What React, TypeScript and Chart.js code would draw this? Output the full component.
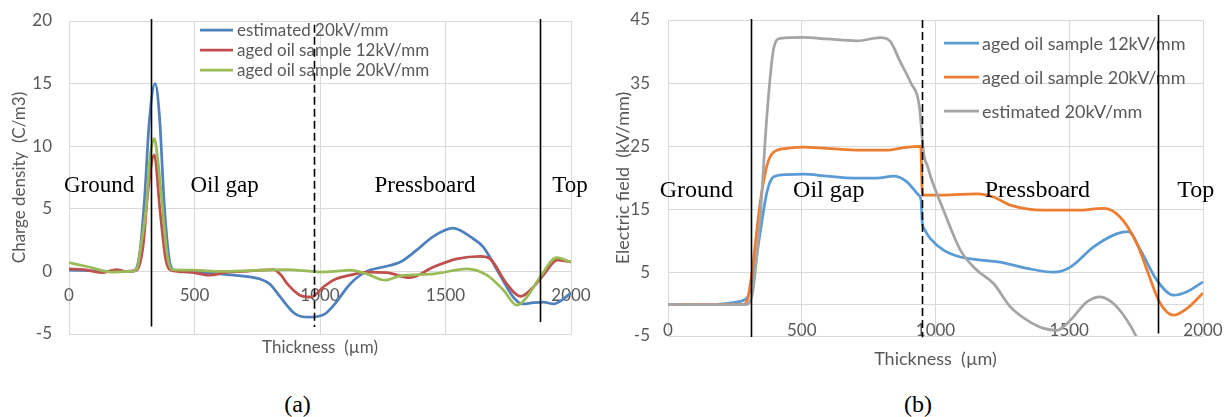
import React, { useEffect, useRef } from 'react';
import { Chart, registerables } from 'chart.js';

Chart.register(...registerables);
Chart.defaults.font.family = "Lato, 'Open Sans', sans-serif";

// ---------------- (a) Charge density ----------------
const chargeSeriesNames = ['estimated 20kV/mm', 'aged oil sample 12kV/mm', 'aged oil sample 20kV/mm'];

const chargeEstimatedX = [0, 100, 200, 255, 280, 300, 320, 343, 360, 380, 400, 420, 500, 630, 760, 800, 840, 895, 925, 960, 990, 1020, 1055, 1120, 1186, 1252, 1320, 1385, 1452, 1530, 1600, 1650, 1717, 1770, 1805, 1850, 1890, 1930, 1970, 2000];
const chargeEstimatedY = [0.1, 0.05, 0.0, 0.0, 1.2, 5.5, 12.0, 15.0, 12.5, 5.2, 0.9, 0.1, -0.05, -0.25, -0.6, -1.0, -2.0, -3.3, -3.6, -3.65, -3.6, -3.4, -2.7, -1.0, 0.0, 0.35, 0.75, 1.7, 2.8, 3.45, 2.75, 1.95, -0.3, -2.05, -2.6, -2.5, -2.45, -2.6, -2.2, -1.7];

const chargeAged12X = [0, 60, 130, 190, 230, 270, 295, 315, 340, 362, 385, 405, 480, 560, 630, 700, 760, 815, 845, 870, 920, 965, 1013, 1053, 1120, 1186, 1266, 1359, 1452, 1545, 1640, 1678, 1744, 1800, 1850, 1890, 1945, 2000];
const chargeAged12Y = [0.2, 0.15, -0.1, 0.15, 0.0, 0.1, 2.0, 6.5, 9.3, 5.0, 1.0, 0.1, -0.05, -0.3, -0.05, 0.0, 0.1, 0.15, -0.3, -1.0, -1.9, -2.05, -1.25, -0.7, -0.3, -0.05, -0.1, -0.5, 0.35, 1.0, 1.2, 1.0, -1.0, -2.0, -1.25, -0.3, 0.9, 0.75];

const chargeAged20X = [0, 80, 170, 250, 270, 290, 307, 322, 340, 356, 373, 390, 410, 500, 600, 695, 780, 867, 968, 1000, 1060, 1120, 1186, 1259, 1319, 1452, 1585, 1665, 1731, 1784, 1824, 1877, 1943, 2000];
const chargeAged20Y = [0.7, 0.35, -0.05, 0.0, 0.2, 2.5, 5.0, 9.0, 10.6, 8.5, 5.0, 1.5, 0.15, 0.1, 0.0, 0.05, 0.1, 0.15, 0.0, -0.05, 0.0, 0.1, -0.2, -0.7, -0.35, -0.2, 0.2, -0.3, -1.5, -2.7, -2.05, -0.45, 1.1, 0.75];

const chargeYTicks = [-5, 0, 5, 10, 15, 20];
const thicknessTicks = [0, 500, 1000, 1500, 2000];

const chargeBoundaryX = [328, 977, 1876];
const chargeBoundaryTop = [20.15, 19.7, 20.15];
const chargeBoundaryBottom = [-4.4, -4.45, -4.05];
const chargeBoundaryDashed = [false, true, false];

const regionNames = ['Ground', 'Oil gap', 'Pressboard', 'Top'];
const chargeRegionX = [120, 620, 1418, 1996];
const chargeRegionBaseline = 6.34;

// ---------------- (b) Electric field ----------------
const fieldSeriesNames = ['aged oil sample 12kV/mm', 'aged oil sample 20kV/mm', 'estimated 20kV/mm'];

const fieldAged12X = [0, 183, 245, 283, 301, 320, 345, 370, 395, 445, 507, 594, 694, 781, 843, 893, 937, 946, 950, 960, 981, 1030, 1093, 1155, 1242, 1342, 1442, 1504, 1591, 1679, 1722, 1766, 1828, 1890, 1940, 2000];
const fieldAged12Y = [0, 0, 0.3, 0.65, 1.4, 4.6, 11.5, 17.8, 20.2, 20.55, 20.6, 20.3, 20.0, 20.0, 20.3, 19.4, 17.3, 16.5, 13.2, 11.8, 10.4, 8.6, 7.5, 7.1, 6.7, 5.7, 5.1, 5.9, 9.1, 11.2, 11.5, 8.6, 3.8, 1.45, 2.0, 3.55];

const fieldAged20X = [0, 283, 298, 314, 345, 370, 395, 445, 507, 594, 719, 819, 881, 945, 951, 1030, 1155, 1217, 1280, 1404, 1529, 1628, 1691, 1753, 1791, 1834, 1865, 1890, 1940, 2000];
const fieldAged20Y = [0, 0, 0.9, 5.1, 16.2, 22.0, 24.1, 24.7, 24.9, 24.7, 24.4, 24.4, 24.8, 25.0, 17.3, 17.3, 17.5, 17.0, 15.7, 14.9, 14.9, 15.2, 13.8, 9.6, 5.4, 0.65, -1.2, -1.7, -0.65, 1.8];

const fieldEstimatedX = [0, 289, 314, 345, 370, 395, 420, 507, 594, 706, 794, 831, 868, 906, 940, 956, 970, 985, 1030, 1093, 1155, 1217, 1280, 1342, 1404, 1454, 1504, 1566, 1616, 1666, 1716, 1753, 1790];
const fieldEstimatedY = [0, -0.05, 1.4, 14.1, 30.0, 40.5, 42.1, 42.25, 42.0, 41.7, 42.2, 41.6, 38.4, 35.2, 31.2, 23.8, 21.9, 19.8, 14.9, 8.6, 5.4, 3.3, -0.4, -2.5, -3.8, -4.1, -2.5, 0.4, 1.2, 0.1, -2.5, -5.3, -9.0];

const fieldYTicks = [-5, 5, 15, 25, 35, 45];

const fieldBoundaryX = [311, 949, 1832];
const fieldBoundaryTop = [45.15, 45.0, 45.8];
const fieldBoundaryBottom = [-5.16, -5.2, -4.6];
const fieldBoundaryDashed = [false, true, false];

const fieldRegionX = [106, 601, 1381, 1973];
const fieldRegionBaseline = 17.04;

// ---------------- helpers ----------------
const TEXT = '#595959';
const GRID = '#d9d9d9';
const zip = (xs: number[], ys: number[]) => xs.map((x, i) => ({ x, y: ys[i] }));

const extrasPlugin = {
  id: 'figureExtras',
  afterDatasetsDraw(chart: any, _args: any, o: any) {
    const { ctx, chartArea, scales } = chart;
    const xs = scales.x;
    const ys = scales.y;
    ctx.save();
    // region labels
    ctx.font = `${o.regionFont}px 'Liberation Serif', 'Times New Roman', serif`;
    ctx.fillStyle = '#000';
    ctx.textAlign = 'center';
    ctx.textBaseline = 'alphabetic';
    o.regionX.forEach((v: number, i: number) => {
      ctx.fillText(o.regionNames[i], xs.getPixelForValue(v), ys.getPixelForValue(o.regionBaseline));
    });
    // legend
    const lg = o.legend;
    ctx.font = `${lg.font}px Lato, 'Open Sans', sans-serif`;
    ctx.textAlign = 'left';
    ctx.textBaseline = 'middle';
    chart.data.datasets.forEach((ds: any, i: number) => {
      const yy = chartArea.top + lg.top + i * lg.spacing;
      const x0 = chartArea.left + lg.left;
      ctx.strokeStyle = ds.borderColor;
      ctx.lineWidth = ds.borderWidth;
      ctx.setLineDash([]);
      ctx.beginPath();
      ctx.moveTo(x0, yy);
      ctx.lineTo(x0 + lg.lineLength, yy);
      ctx.stroke();
      ctx.fillStyle = TEXT;
      ctx.fillText(ds.label, x0 + lg.lineLength + lg.gap, yy + 1);
    });
    // boundary lines
    ctx.strokeStyle = '#000';
    ctx.lineWidth = 1.6;
    o.boundaryX.forEach((v: number, i: number) => {
      const px = Math.round(xs.getPixelForValue(v)) + 0.5;
      ctx.setLineDash(o.boundaryDashed[i] ? [8, 4] : []);
      ctx.beginPath();
      ctx.moveTo(px, ys.getPixelForValue(o.boundaryTop[i]));
      ctx.lineTo(px, ys.getPixelForValue(o.boundaryBottom[i]));
      ctx.stroke();
    });
    ctx.restore();
  },
};

const plainNumber = (v: any) => String(v);

function buildConfig(s: any): any {
  const colors: string[] = s.colors;
  const datasets = s.series.map((d: any, i: number) => ({
    label: s.names[i],
    data: zip(d[0], d[1]),
    borderColor: colors[i],
    backgroundColor: colors[i],
    borderWidth: 2.75,
    pointRadius: 0,
    pointHoverRadius: 0,
    fill: false,
    cubicInterpolationMode: 'monotone',
    xAxisID: 'x',
    yAxisID: 'y',
    order: s.series.length - 1 - i,
  }));
  const setTicks = (arr: number[]) => (sc: any) => {
    sc.ticks = arr.map((v) => ({ value: v }));
  };
  return {
    type: 'line',
    data: { datasets },
    plugins: [extrasPlugin],
    options: {
      responsive: false,
      animation: false,
      devicePixelRatio: 1,
      events: [],
      layout: { padding: { top: s.padTop, right: s.padRight, left: 0, bottom: 0 } },
      plugins: {
        legend: { display: false },
        tooltip: { enabled: false },
        title: { display: false },
        figureExtras: {
          regionNames,
          regionX: s.regionX,
          regionBaseline: s.regionBaseline,
          regionFont: s.regionFont,
          boundaryX: s.boundaryX,
          boundaryTop: s.boundaryTop,
          boundaryBottom: s.boundaryBottom,
          boundaryDashed: s.boundaryDashed,
          legend: s.legend,
        },
      },
      scales: {
        x: {
          type: 'linear',
          position: 'bottom',
          min: 0,
          max: 2000,
          afterBuildTicks: setTicks(thicknessTicks),
          grid: { color: GRID, drawTicks: false, lineWidth: 1 },
          border: { display: false },
          ticks: { display: false },
          title: {
            display: true,
            text: 'Thickness  (µm)',
            color: TEXT,
            font: { size: s.titleFont },
            padding: { top: 0, bottom: s.xTitlePad },
          },
          afterFit: (sc: any) => {
            sc.height = s.xHeight;
            sc.paddingLeft = 0;
            sc.paddingRight = 0;
          },
        },
        x2: {
          type: 'linear',
          axis: 'x',
          position: { y: 0 },
          min: 0,
          max: 2000,
          afterBuildTicks: setTicks(thicknessTicks),
          grid: { display: false, drawTicks: false },
          border: { display: s.zeroLine, color: GRID, width: 1 },
          ticks: {
            color: TEXT,
            font: { size: s.tickFont },
            padding: s.xLabelPad,
            maxRotation: 0,
            autoSkip: false,
            callback: plainNumber,
          },
          afterFit: (sc: any) => {
            sc.paddingLeft = 0;
            sc.paddingRight = 0;
          },
        },
        y: {
          type: 'linear',
          position: 'left',
          min: s.yMin,
          max: s.yMax,
          afterBuildTicks: setTicks(s.yTicks),
          grid: { color: GRID, drawTicks: false, lineWidth: 1 },
          border: { display: false },
          ticks: { color: TEXT, font: { size: s.tickFont }, padding: s.yLabelPad, callback: plainNumber },
          title: {
            display: true,
            text: s.yTitle,
            color: TEXT,
            font: { size: s.titleFont },
            padding: { top: s.yTitlePad, bottom: 0 },
          },
          afterFit: (sc: any) => {
            sc.width = s.yWidth;
            sc.paddingTop = 0;
            sc.paddingBottom = 0;
          },
        },
      },
    },
  };
}

const leftSpec = {
  names: chargeSeriesNames,
  colors: ['#4F81BD', '#C0504D', '#9BBB59'],
  series: [
    [chargeEstimatedX, chargeEstimatedY],
    [chargeAged12X, chargeAged12Y],
    [chargeAged20X, chargeAged20Y],
  ],
  yMin: -5,
  yMax: 20,
  yTicks: chargeYTicks,
  yTitle: 'Charge density  (C/m3)',
  padTop: 21,
  padRight: 29,
  yWidth: 69,
  xHeight: 41,
  tickFont: 17,
  titleFont: 17,
  xTitlePad: 17,
  xLabelPad: 14,
  yLabelPad: 17,
  yTitlePad: 9,
  zeroLine: false,
  regionX: chargeRegionX,
  regionBaseline: chargeRegionBaseline,
  regionFont: 23,
  boundaryX: chargeBoundaryX,
  boundaryTop: chargeBoundaryTop,
  boundaryBottom: chargeBoundaryBottom,
  boundaryDashed: chargeBoundaryDashed,
  legend: { left: 131, top: 9, spacing: 20, lineLength: 33, gap: 4, font: 17 },
};

const rightSpec = {
  names: fieldSeriesNames,
  colors: ['#5B9BD5', '#ED7D31', '#A5A5A5'],
  series: [
    [fieldAged12X, fieldAged12Y],
    [fieldAged20X, fieldAged20Y],
    [fieldEstimatedX, fieldEstimatedY],
  ],
  yMin: -5,
  yMax: 45,
  yTicks: fieldYTicks,
  yTitle: 'Electric field  (kV/mm)',
  padTop: 20,
  padRight: 28,
  yWidth: 58,
  xHeight: 39,
  tickFont: 17,
  titleFont: 18,
  xTitlePad: 5,
  xLabelPad: 16,
  yLabelPad: 18,
  yTitlePad: 2,
  zeroLine: true,
  regionX: fieldRegionX,
  regionBaseline: fieldRegionBaseline,
  regionFont: 24,
  boundaryX: fieldBoundaryX,
  boundaryTop: fieldBoundaryTop,
  boundaryBottom: fieldBoundaryBottom,
  boundaryDashed: fieldBoundaryDashed,
  legend: { left: 276, top: 23, spacing: 34, lineLength: 35, gap: 3, font: 18 },
};

const captionStyle: React.CSSProperties = {
  position: 'absolute',
  top: 390,
  width: 60,
  textAlign: 'center',
  fontFamily: "'Liberation Serif', 'Times New Roman', serif",
  fontSize: 24,
  lineHeight: '28px',
  color: '#000',
};

export default function App() {
  const leftRef = useRef<HTMLCanvasElement>(null);
  const rightRef = useRef<HTMLCanvasElement>(null);
  useEffect(() => {
    const c1 = new Chart(leftRef.current as HTMLCanvasElement, buildConfig(leftSpec));
    const c2 = new Chart(rightRef.current as HTMLCanvasElement, buildConfig(rightSpec));
    return () => {
      c1.destroy();
      c2.destroy();
    };
  }, []);
  return (
    <div style={{ position: 'absolute', left: 0, top: 0, width: 1231, height: 417, background: '#fff', overflow: 'hidden' }}>
      <canvas ref={leftRef} width={600} height={375} style={{ position: 'absolute', left: 0, top: 0 }} />
      <canvas ref={rightRef} width={621} height={375} style={{ position: 'absolute', left: 610, top: 0 }} />
      <div style={{ ...captionStyle, left: 297.5 - 30 }}>(a)</div>
      <div style={{ ...captionStyle, left: 918 - 30 }}>(b)</div>
    </div>
  );
}
